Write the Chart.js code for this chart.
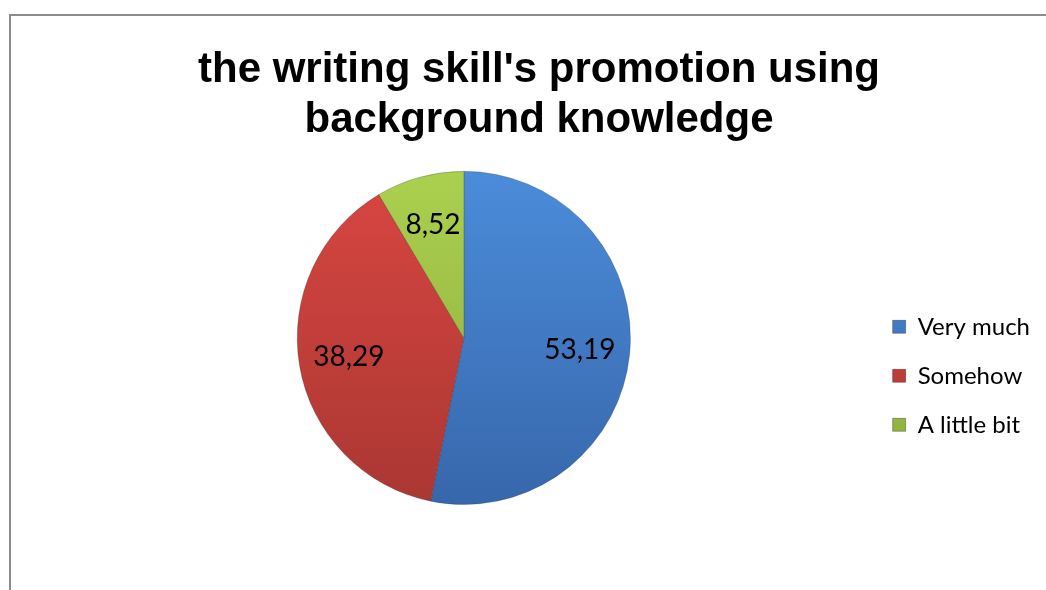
<!DOCTYPE html>
<html>
<head>
<meta charset="utf-8">
<script src="https://cdn.jsdelivr.net/npm/chart.js@4.4.1/dist/chart.umd.min.js"></script>
<style>
  html, body { margin: 0; padding: 0; background: #fff; }
  #wrap { position: relative; width: 1046px; height: 590px; overflow: hidden; }
  #frame {
    position: absolute; left: 9px; top: 14px; width: 1100px; height: 700px;
    border-top: 2px solid #8c8c8c; border-left: 2px solid #8c8c8c;
  }
  canvas { position: absolute; left: 0; top: 0; }
</style>
</head>
<body>
<div id="wrap">
  <div id="frame"></div>
  <canvas id="pieChart" width="1046" height="590"></canvas>
</div>
<script>
// survey answers, percent of respondents
const answers = ['Very much', 'Somehow', 'A little bit'];
const shares = [53.19, 38.29, 8.52];
const titleLines = ["the writing skill's promotion using", 'background knowledge'];

// light / dark ends of each slice's vertical gradient
const topColors = ['#4b8cda', '#d94641', '#abd04f'];
const bottomColors = ['#3767ab', '#aa3733', '#8cab3b'];

function sliceFill(context) {
  const i = context.dataIndex;
  const area = context.chart.chartArea;
  if (!area) return topColors[i];
  const g = context.chart.ctx.createLinearGradient(0, area.top, 0, area.bottom);
  g.addColorStop(0, topColors[i]);
  g.addColorStop(1, bottomColors[i]);
  return g;
}

// writes each value inside its slice, decimal comma
const valueLabels = {
  id: 'valueLabels',
  afterDatasetsDraw(chart) {
    const ctx = chart.ctx;
    const meta = chart.getDatasetMeta(0);
    ctx.save();
    ctx.font = '28px Lato';
    ctx.fillStyle = '#000';
    ctx.textAlign = 'center';
    ctx.textBaseline = 'middle';
    meta.data.forEach((arc, i) => {
      const p = arc.getProps(['x', 'y', 'startAngle', 'endAngle', 'outerRadius']);
      const mid = (p.startAngle + p.endAngle) / 2;
      const r = p.outerRadius * 0.7;
      const text = shares[i].toFixed(2).replace('.', ',');
      ctx.fillText(text, p.x + Math.cos(mid) * r, p.y + Math.sin(mid) * r);
    });
    ctx.restore();
  }
};

new Chart(document.getElementById('pieChart'), {
  type: 'pie',
  data: {
    labels: answers,
    datasets: [{
      data: shares,
      backgroundColor: sliceFill,
      borderColor: 'rgba(40,40,40,0.25)',
      borderWidth: 1
    }]
  },
  options: {
    responsive: false,
    animation: false,
    layout: { padding: { left: 38, right: 6, top: 45, bottom: 85 } },
    plugins: {
      title: {
        display: true,
        text: titleLines,
        color: '#000',
        font: { family: '"Liberation Sans", Arial', size: 42, weight: 'bold', lineHeight: 1.2 },
        padding: { top: 0, bottom: 25 }
      },
      legend: {
        position: 'right',
        fullSize: false,
        align: 'start',
        // empty title only pushes the entries down
        title: { display: true, text: '', font: { size: 10, lineHeight: 1 }, padding: { top: 131, bottom: 0 } },
        labels: {
          color: '#000',
          font: { family: 'Lato', size: 24, lineHeight: '46px' },
          boxWidth: 13,
          boxHeight: 13,
          padding: 3,
          generateLabels(chart) {
            const items = Chart.overrides.pie.plugins.legend.labels.generateLabels(chart);
            items.forEach(item => { item.text = [item.text]; item.strokeStyle = 'rgba(0,0,0,0.3)'; });
            return items;
          }
        }
      },
      tooltip: { enabled: false }
    }
  },
  plugins: [valueLabels]
});
</script>
</body>
</html>
